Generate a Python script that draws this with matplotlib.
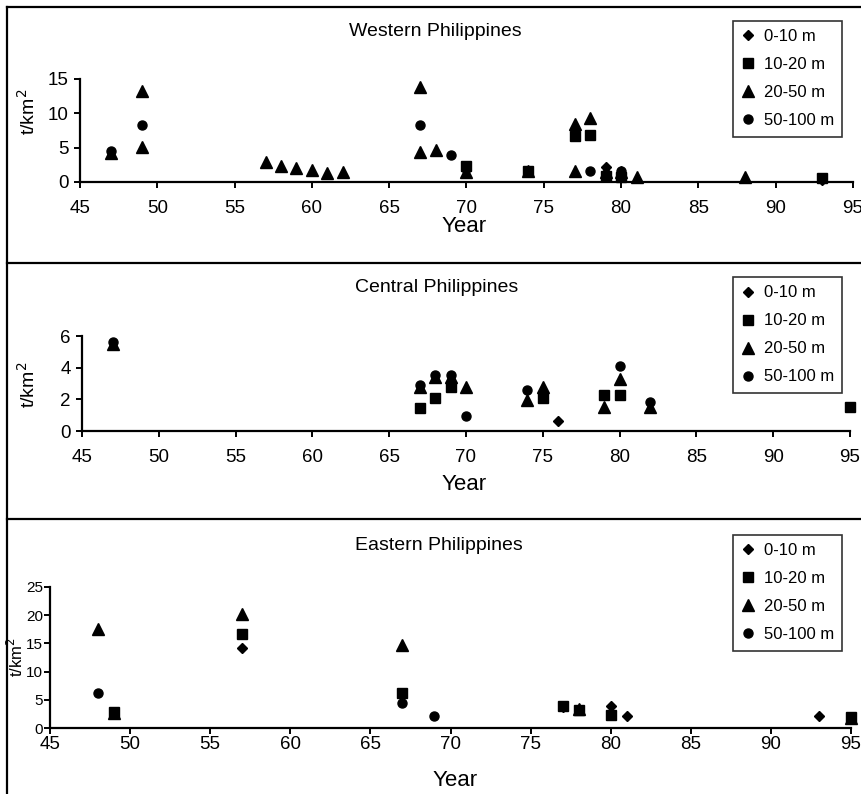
import matplotlib
matplotlib.use("Agg")
import matplotlib.pyplot as plt
from matplotlib.lines import Line2D

plt.rcParams['font.family'] = ['Liberation Sans', 'DejaVu Sans']

W, H = 862, 794

# depth classes and their markers
depths = ['0-10 m', '10-20 m', '20-50 m', '50-100 m']
markers = ['D', 's', '^', 'o']
msizes = [5.5, 6.5, 8.5, 6.5]

# Western Philippines (t/km2 by year)
w_0_10_yr = [70, 79, 80, 93]
w_0_10_val = [1.7, 2.2, 1.3, 0.3]
w_10_20_yr = [70, 74, 77, 78, 79, 80, 93]
w_10_20_val = [2.3, 1.6, 6.7, 6.9, 0.9, 0.7, 0.6]
w_20_50_yr = [47, 49, 49, 57, 58, 59, 60, 61, 62, 67, 67, 68, 70, 74, 77, 77, 78, 79, 80, 81, 88]
w_20_50_val = [4.2, 13.2, 5.1, 2.9, 2.3, 2.0, 1.75, 1.35, 1.5, 13.8, 4.3, 4.7, 1.5, 1.6,
               8.4, 1.6, 9.3, 1.5, 1.4, 0.75, 0.75]
w_50_100_yr = [47, 49, 67, 69, 78, 79, 80]
w_50_100_val = [4.5, 8.3, 8.3, 4.0, 1.6, 1.2, 1.6]

# Central Philippines
c_0_10_yr = [76]
c_0_10_val = [0.65]
c_10_20_yr = [67, 68, 69, 75, 79, 80, 95]
c_10_20_val = [1.43, 2.06, 2.76, 2.06, 2.27, 2.27, 1.5]
c_20_50_yr = [47, 67, 68, 69, 70, 74, 75, 79, 80, 82]
c_20_50_val = [5.5, 2.8, 3.4, 3.4, 2.8, 1.96, 2.8, 1.5, 3.26, 1.54]
c_50_100_yr = [47, 67, 68, 69, 70, 74, 80, 82]
c_50_100_val = [5.65, 2.9, 3.55, 3.55, 0.97, 2.6, 4.1, 1.85]

# Eastern Philippines
e_0_10_yr = [57, 77, 80, 81, 93]
e_0_10_val = [14.2, 3.8, 3.9, 2.2, 2.2]
e_10_20_yr = [49, 57, 67, 77, 78, 80, 95]
e_10_20_val = [2.9, 16.7, 6.26, 3.9, 3.2, 2.3, 2.0]
e_20_50_yr = [48, 49, 57, 67, 78, 95]
e_20_50_val = [17.5, 2.7, 20.2, 14.8, 3.4, 1.8]
e_50_100_yr = [48, 67, 69]
e_50_100_val = [6.26, 4.37, 2.1]

x_ticks = [45, 50, 55, 60, 65, 70, 75, 80, 85, 90, 95]


def fx(px):
    return px / W


def fy(py):
    return 1 - py / H


fig = plt.figure(figsize=(W / 100, H / 100), dpi=100)

# outer frame and panel separators
frame = dict(color='black', lw=1.6, transform=fig.transFigure)
fig.add_artist(Line2D([fx(7), fx(7)], [fy(7), 0], **frame))
for py in [7, 263, 519]:
    fig.add_artist(Line2D([fx(7), 1], [fy(py), fy(py)], **frame))


def panel(rect_px, ymax, yticks, series, title, title_px, year_px, ylab_px,
          legend_px, ytick_size=13.5, ylab_size=14, xpad=9, ypad=4):
    x0, x1, y0, y1 = rect_px  # left, right, bottom (value 0), top (ymax)
    ax = fig.add_axes([fx(x0), fy(y0), (x1 - x0) / W, (y0 - y1) / H])
    for (yrs, vals), mk, ms, lab in zip(series, markers, msizes, depths):
        ax.plot(yrs, vals, ls='none', marker=mk, ms=ms, color='black',
                label=lab, clip_on=False)
    ax.set_xlim(45, 95)
    ax.set_ylim(0, ymax)
    ax.set_xticks(x_ticks)
    ax.set_yticks(yticks)
    for s in ['top', 'right']:
        ax.spines[s].set_visible(False)
    for s in ['left', 'bottom']:
        ax.spines[s].set_linewidth(1.6)
    ax.tick_params(axis='both', direction='out', length=4, width=1.4)
    ax.tick_params(axis='x', labelsize=13.5, pad=xpad)
    ax.tick_params(axis='y', labelsize=ytick_size, pad=ypad)
    ax.patch.set_alpha(0)

    fig.text(fx(title_px[0]), fy(title_px[1]), title, ha='center', va='center', fontsize=14)
    fig.text(fx(year_px[0]), fy(year_px[1]), 'Year', ha='center', va='center', fontsize=16)
    fig.text(fx(ylab_px[0]), fy(ylab_px[1]), 't/km$^2$', ha='center', va='center',
             rotation=90, fontsize=ylab_size)

    leg = ax.legend(loc='upper left', bbox_to_anchor=(fx(legend_px[0]), fy(legend_px[1])),
                    bbox_transform=fig.transFigure, borderaxespad=0, fontsize=12,
                    frameon=True, fancybox=False, edgecolor='black', handlelength=0.8,
                    handletextpad=0.55, labelspacing=0.78, borderpad=0.5, markerscale=1.0)
    leg.get_frame().set_linewidth(1.2)
    return ax


panel((80, 853, 182, 79), 15, [0, 5, 10, 15],
      [(w_0_10_yr, w_0_10_val), (w_10_20_yr, w_10_20_val),
       (w_20_50_yr, w_20_50_val), (w_50_100_yr, w_50_100_val)],
      'Western Philippines', (435, 31), (464, 227), (28, 112), (733, 21))

panel((82, 850, 431, 336), 6, [0, 2, 4, 6],
      [(c_0_10_yr, c_0_10_val), (c_10_20_yr, c_10_20_val),
       (c_20_50_yr, c_20_50_val), (c_50_100_yr, c_50_100_val)],
      'Central Philippines', (437, 288), (464, 485), (28, 385), (733, 277))

panel((50, 851, 728, 587), 25, [0, 5, 10, 15, 20, 25],
      [(e_0_10_yr, e_0_10_val), (e_10_20_yr, e_10_20_val),
       (e_20_50_yr, e_20_50_val), (e_50_100_yr, e_50_100_val)],
      'Eastern Philippines', (439, 545), (455, 780), (16, 657), (733, 535),
      ytick_size=11, ylab_size=12, xpad=2, ypad=1)

fig.savefig('out.png', dpi=100)
